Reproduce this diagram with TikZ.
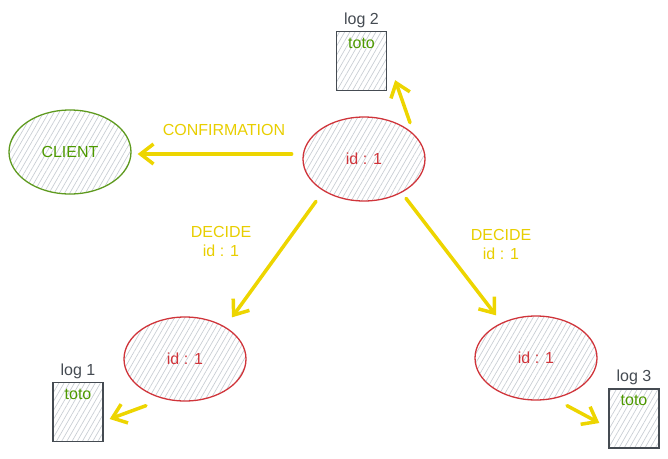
\documentclass[tikz,border=0pt]{standalone}
\usepackage{fontspec}
\setmainfont{Liberation Sans}
\usetikzlibrary{arrows.meta,patterns.meta,shapes.geometric}
\definecolor{msgyellow}{HTML}{EDD500}
\definecolor{txtyellow}{HTML}{E8CE00}
\definecolor{nodered}{HTML}{D0343A}
\definecolor{nodegreen}{HTML}{5E9A1E}
\definecolor{txtgreen}{HTML}{4D9900}
\definecolor{boxgray}{HTML}{454B52}
\definecolor{hatchgray}{HTML}{C9CED4}

\begin{document}
\begin{tikzpicture}[x=1pt,y=-1pt,font=\fontsize{16}{19}\selectfont,
    hatch/.style={pattern={Lines[angle=60,distance=4.5pt,line width=0.7pt]},pattern color=hatchgray},
    replica/.style={ellipse,draw=nodered,line width=1.3pt,hatch,text=nodered,minimum width=122pt,minimum height=84pt,inner sep=0pt},
    logbox/.style={rectangle,draw=boxgray,line width=1.3pt,hatch,minimum width=50pt,minimum height=59pt,inner sep=0pt},
    msg/.style={draw=msgyellow,line width=3.5pt,line cap=round,-{Straight Barb[length=13pt,width=20pt,line width=3.5pt]}}]
    \useasboundingbox (0,0) rectangle (668,458);
    % replicas
    \node[replica] (leader) at (364,159) {id : 1};
    \node[replica] (replicaA) at (185,359) {id : 1};
    \node[replica] (replicaB) at (536,358) {id : 1};
    \node[ellipse,draw=nodegreen,line width=1.3pt,hatch,text=txtgreen,minimum width=122pt,minimum height=84pt] (client) at (70,152) {CLIENT};
    % logs
    \node[logbox] (logB) at (361.5,61) {};
    \node[logbox] (logA) at (78,412) {};
    \node[logbox] (logC) at (634,418.5) {};
    \foreach \logname/\logtitle in {logA/log 1,logB/log 2,logC/log 3} {
        \node[text=boxgray,above,inner sep=3pt] (\logname-title) at (\logname.north) {\logtitle};
        \node[text=txtgreen,below,inner sep=7pt] (\logname-entry) at (\logname.north) {toto};
    }
    % messages
    \draw[msg] ([shift={(-11,-5)}]leader.west) -- ([shift={(6,2)}]client.east);
    \draw[msg] ([shift={(46,6)}]leader.north) -- ([shift={(8,-11)}]logB.south east);
    \draw[msg] ([shift={(-48,0)}]leader.south) -- ([shift={(47,1)}]replicaA.north);
    \draw[msg] ([shift={(42,-3)}]leader.south) -- ([shift={(-40,0)}]replicaB.north);
    \draw[msg] ([shift={(-39,4)}]replicaA.south) -- ([shift={(6,7)}]logA.east);
    \draw[msg] ([shift={(31,5)}]replicaB.south) -- ([shift={(-9,4.5)}]logC.west);
    \begin{scope}[text=txtyellow]
        \node (confirm) at (224,130) {CONFIRMATION};
        \node[align=center] (decideA) at (221,241) {DECIDE\\id : 1};
        \node[align=center] (decideB) at (501,244.5) {DECIDE\\id : 1};
    \end{scope}
\end{tikzpicture}
\end{document}
